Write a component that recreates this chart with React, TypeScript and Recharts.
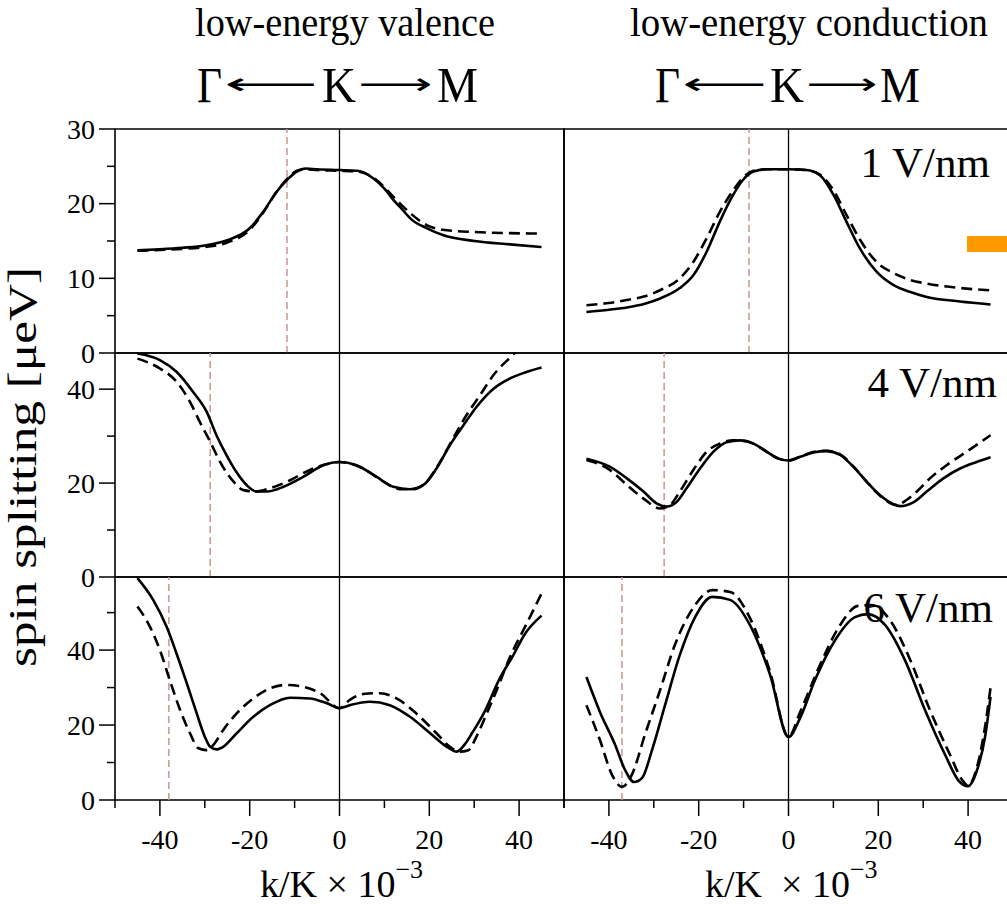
import React from 'react';
import { LineChart, Line, XAxis, YAxis, ReferenceLine, ReferenceArea } from 'recharts';

const FONT = 'Liberation Serif';
const ARROW_FONT = 'DejaVu Sans';

// ---------- data (k/K x 1e-3, spin splitting in μeV) ----------
// top-left: valence, 1 V/nm
const tlSolidK = [-45, -40, -35, -30, -25, -20, -17, -14, -11.5, -9.5, -7.5, -5, 0, 4, 7.5, 10, 12, 14, 16, 19.5, 23, 30, 38, 45];
const tlSolidV = [13.75, 13.9, 14.1, 14.4, 15.1, 16.7, 18.9, 21.6, 23.3, 24.3, 24.7, 24.6, 24.5, 24.4, 23.4, 22.0, 20.5, 19.2, 17.9, 16.7, 15.8, 15.0, 14.55, 14.2];
const tlDashK = tlSolidK;
const tlDashV = [13.7, 13.8, 13.95, 14.2, 14.8, 16.5, 18.8, 21.6, 23.4, 24.4, 24.6, 24.5, 24.4, 24.3, 23.5, 22.2, 20.9, 19.7, 18.6, 17.1, 16.5, 16.2, 16.05, 16.0];

// top-right: conduction, 1 V/nm
const trSolidK = [-45, -40, -36, -32, -28.6, -24.2, -21.2, -18.2, -15.3, -12.3, -10.1, -7.8, -4.9, 0, 4, 7, 10, 12.9, 15.9, 19.6, 23.4, 27, 30.8, 38.2, 45];
const trSolidV = [5.5, 5.8, 6.1, 6.6, 7.3, 8.7, 10.4, 13.6, 17.6, 21.2, 23.2, 24.3, 24.6, 24.6, 24.5, 23.8, 21.2, 17.6, 14.0, 10.9, 9.1, 8.2, 7.5, 6.9, 6.5];
const trDashK = trSolidK;
const trDashV = [6.4, 6.7, 7.1, 7.6, 8.4, 10.0, 12.2, 15.4, 18.9, 21.8, 23.5, 24.4, 24.6, 24.6, 24.5, 23.9, 21.8, 18.5, 15.2, 12.2, 10.7, 9.8, 9.3, 8.7, 8.4];

// middle-left: valence, 4 V/nm
const mlSolidK = [-45, -40, -36.3, -32.6, -29.6, -27.4, -25.2, -23, -20.7, -18.5, -16.2, -12.5, -8.1, -3.6, 0, 3.8, 8.3, 12, 15.7, 18.7, 21.6, 24.6, 27.6, 30.5, 34.3, 38, 41.5, 45];
const mlSolidV = [47.6, 46.2, 43.7, 39.4, 35.2, 30.2, 26.0, 22.4, 19.6, 18.2, 18.2, 19.2, 21.3, 23.8, 24.5, 23.8, 21.3, 19.2, 18.7, 19.6, 23.1, 28.1, 32.3, 36.2, 40.1, 42.3, 43.6, 44.6];
const mlDashK = [-45, -40, -36.3, -33.3, -31.1, -28.8, -26.6, -23.6, -21.4, -18.5, -15.5, -11, -6.6, -2.1, 0, 5.3, 9.8, 13.5, 16.4, 19.4, 22.4, 25.3, 28.3, 31.3, 34.3, 38.7, 39.3];
const mlDashV = [46.5, 44.4, 41.6, 37.3, 33.0, 28.8, 24.5, 20.3, 18.5, 18.2, 18.9, 20.6, 22.8, 24.2, 24.5, 23.1, 20.3, 18.7, 18.7, 20.3, 24.5, 29.5, 34.5, 38.7, 43.0, 47.4, 48.0];

// middle-right: conduction, 4 V/nm
const mrSolidK = [-45, -39.8, -36, -32.3, -29.4, -27.1, -24.9, -22.7, -19.7, -16.7, -13.8, -10.8, -7.8, -4.9, -1.9, 0, 2.6, 5.5, 8.5, 11.5, 14.4, 17.4, 20.4, 23.4, 24.8, 27.8, 30.8, 34.5, 38.2, 41.9, 45];
const mrSolidV = [25.2, 23.5, 21.0, 18.2, 15.7, 15.0, 16.0, 18.9, 23.1, 26.7, 28.7, 29.1, 28.4, 26.7, 25.1, 24.8, 25.6, 26.5, 26.8, 26.0, 23.5, 20.3, 17.4, 15.5, 15.1, 15.9, 18.2, 21.0, 23.1, 24.5, 25.5];
const mrDashK = [-45, -39.8, -36, -32.3, -28.6, -26.4, -24.2, -21.2, -18.2, -15.3, -12.3, -9.3, -7.8, -4.9, -1.9, 0, 2.6, 5.5, 8.5, 11.5, 14.4, 17.4, 20.4, 24.1, 26.3, 28.6, 31.5, 35.2, 39.7, 45];
const mrDashV = [24.9, 22.8, 19.6, 16.7, 14.6, 15.3, 18.2, 22.8, 26.7, 28.4, 29.1, 28.9, 28.4, 26.7, 25.1, 24.8, 25.6, 26.6, 26.9, 26.1, 23.6, 20.3, 17.3, 15.3, 16.4, 18.2, 21.0, 23.8, 26.7, 30.2];

// bottom-left: valence, 6 V/nm
const blSolidK = [-45, -41.5, -38.5, -36.3, -34, -31.8, -30, -28.8, -27.4, -25.9, -22.9, -19.2, -15.5, -11, -6.6, -2.8, 0, 2.3, 6.8, 11.2, 15.7, 20.2, 23.9, 26.1, 28, 29.5, 32.5, 35.5, 38.5, 41.4, 45];
const blSolidV = [59.2, 53.4, 46.2, 39.1, 31.1, 23.1, 16.9, 14.2, 13.5, 14.2, 17.8, 22.2, 25.3, 27.3, 27.1, 25.8, 24.5, 25.3, 26.2, 25.3, 22.2, 17.8, 14.2, 12.9, 15.0, 17.8, 24.0, 32.0, 38.2, 44.5, 49.2];
const blDashK = [-45, -42.2, -40, -37.8, -35.5, -33.3, -31.4, -29.6, -28.1, -25.9, -22.9, -19.2, -15.5, -11.8, -8, -4.3, 0, 2.3, 5.3, 9, 12.7, 17.1, 21.6, 24.6, 26.8, 28.7, 30.5, 32.8, 35, 38, 41.7, 45];
const blDashV = [51.6, 46.2, 40.0, 32.0, 24.0, 17.8, 13.8, 13.3, 14.7, 18.7, 23.1, 27.1, 29.8, 30.7, 30.2, 28.5, 24.5, 26.7, 28.3, 28.5, 27.1, 23.1, 17.8, 14.2, 12.9, 13.3, 16.9, 23.1, 29.3, 38.2, 47.1, 55.1];

// bottom-right: conduction, 6 V/nm
const brSolidK = [-45, -42, -38.6, -36.4, -34.4, -32.6, -30.4, -27.5, -24.2, -20.8, -17, -13, -8.6, -4.1, 0, 2.6, 5.9, 10.4, 14.8, 17.7, 21.5, 25.9, 30.4, 34.9, 38, 40, 42, 43.8, 45];
const brSolidV = [32.8, 23.5, 14.7, 8.0, 4.8, 5.9, 13.3, 25.3, 38.7, 48.8, 54.2, 53.4, 46.7, 33.4, 16.8, 21.9, 32.0, 42.7, 48.8, 49.6, 46.7, 37.4, 24.0, 12.0, 5.0, 3.7, 8.0, 17.0, 27.5];
const brDashK = [-45, -42, -39.3, -37.1, -34.9, -32, -28.6, -25.3, -20.8, -17, -13, -8.6, -4.1, 0, 2.6, 7, 11.5, 15.5, 18.6, 22.6, 27.1, 31.5, 36, 38.6, 40, 41.8, 43.5, 45];
const brDashV = [25.3, 16.0, 6.7, 3.5, 6.7, 17.3, 29.3, 41.4, 52.0, 56.0, 55.5, 48.6, 34.2, 16.8, 23.5, 36.0, 46.7, 51.8, 52.0, 48.0, 37.4, 24.0, 12.0, 5.5, 3.8, 8.0, 17.5, 30.0];

// vertical dashed markers (k/K x 1e-3)
const refKs = [-11.7, -8.8, -28.8, -27.7, -38.0, -37.1];

// axes
const xTicks = [-50, -40, -30, -20, -10, 0, 10, 20, 30, 40, 50];
const xLabeled = [-40, -20, 0, 20, 40];
const rowDomains: [number, number][] = [[0, 30], [0, 47.7], [0, 59.5]];
const rowTicks = [[0, 5, 10, 15, 20, 25, 30], [0, 10, 20, 30, 40], [0, 10, 20, 30, 40, 50]];
const rowLabeled = [[0, 10, 20, 30], [0, 20, 40], [0, 20, 40]];
const fieldLabels = ['1 V/nm', '4 V/nm', '6 V/nm'];

const toPts = (ks: number[], vs: number[]) => ks.map((k, i) => ({ k, v: vs[i] }));

const colLeft = [115, 564];
const rowTop = [129, 353, 577];
const rowH = [224, 224, 223];
const PW = 449;
const PAD = 24;

function YTick(props: any) {
  const { x, y, payload, labeled } = props;
  const major = labeled.includes(payload.value);
  return (
    <g>
      <line x1={x} x2={x - (major ? 16 : 8)} y1={y} y2={y} stroke="#000" strokeWidth={1.5} />
      {major && (
        <text x={x - 20} y={y} dy="0.35em" textAnchor="end" fontSize={28} fontFamily={FONT} fill="#000">
          {payload.value}
        </text>
      )}
    </g>
  );
}

function XTick(props: any) {
  const { x, y, payload } = props;
  const major = xLabeled.includes(payload.value);
  return (
    <g>
      <line x1={x} x2={x} y1={y} y2={y + (major ? 16 : 8)} stroke="#000" strokeWidth={1.5} />
      {major && (
        <text x={x} y={y + 49} textAnchor="middle" fontSize={28} fontFamily={FONT} fill="#000">
          {String(payload.value)}
        </text>
      )}
    </g>
  );
}

function Panel(props: any) {
  const { row, col, solid, dashed, refK } = props;
  const showY = col === 0;
  const showX = row === 2;
  const left = colLeft[col];
  const top = rowTop[row];
  const h = rowH[row];
  const yAxisW = showY ? left : 0;
  const marginLeft = showY ? 0 : PAD;
  const xAxisH = showX ? 90 : 0;
  const chartW = marginLeft + yAxisW + PW + PAD;
  const chartH = PAD + h + (showX ? xAxisH : PAD);
  const dom = rowDomains[row];
  return (
    <div style={{ position: 'absolute', left: left - yAxisW - marginLeft, top: top - PAD }}>
      <LineChart
        width={chartW}
        height={chartH}
        margin={{ top: PAD, right: PAD, bottom: showX ? 0 : PAD, left: marginLeft }}
      >
        <XAxis
          type="number"
          dataKey="k"
          domain={[-50, 50]}
          allowDataOverflow
          hide={!showX}
          height={xAxisH}
          ticks={xTicks}
          interval={0}
          tickSize={0}
          tickMargin={0}
          tickLine={false}
          axisLine={false}
          tick={(p: any) => <XTick {...p} />}
        />
        <YAxis
          type="number"
          dataKey="v"
          domain={dom}
          allowDataOverflow
          hide={!showY}
          width={yAxisW || 1}
          ticks={rowTicks[row]}
          interval={0}
          tickSize={0}
          tickMargin={0}
          tickLine={false}
          axisLine={false}
          tick={(p: any) => <YTick {...p} labeled={rowLabeled[row]} />}
        />
        <ReferenceLine x={refK} stroke="#c9948f" strokeWidth={1.5} strokeDasharray="7 4" ifOverflow="visible" />
        <ReferenceLine x={0} stroke="#000" strokeWidth={1.3} ifOverflow="visible" />
        <Line
          data={dashed}
          dataKey="v"
          type="monotone"
          stroke="#000"
          strokeWidth={2.6}
          strokeDasharray="11 6"
          dot={false}
          activeDot={false}
          isAnimationActive={false}
        />
        <Line
          data={solid}
          dataKey="v"
          type="monotone"
          stroke="#000"
          strokeWidth={2.6}
          dot={false}
          activeDot={false}
          isAnimationActive={false}
        />
        <ReferenceArea
          x1={-50}
          x2={50}
          y1={dom[0]}
          y2={dom[1]}
          fill="none"
          fillOpacity={0}
          stroke="#000"
          strokeWidth={1.6}
          ifOverflow="visible"
        />
      </LineChart>
    </div>
  );
}

function PathLabel(props: any) {
  const { g, k, m, a1, a2 } = props;
  return (
    <g>
      <text x={g[0]} y={102} fontSize={50} fontFamily={FONT} textLength={g[1] - g[0]} lengthAdjust="spacingAndGlyphs">Γ</text>
      <text x={a1[0]} y={94} fontSize={30} fontFamily={ARROW_FONT} textLength={a1[1] - a1[0]} lengthAdjust="spacingAndGlyphs">⟵</text>
      <text x={k[0]} y={102} fontSize={50} fontFamily={FONT} textLength={k[1] - k[0]} lengthAdjust="spacingAndGlyphs">K</text>
      <text x={a2[0]} y={94} fontSize={30} fontFamily={ARROW_FONT} textLength={a2[1] - a2[0]} lengthAdjust="spacingAndGlyphs">⟶</text>
      <text x={m[0]} y={102} fontSize={50} fontFamily={FONT} textLength={m[1] - m[0]} lengthAdjust="spacingAndGlyphs">M</text>
    </g>
  );
}

export default function App() {
  const panels = [
    { row: 0, col: 0, solid: toPts(tlSolidK, tlSolidV), dashed: toPts(tlDashK, tlDashV), refK: refKs[0] },
    { row: 0, col: 1, solid: toPts(trSolidK, trSolidV), dashed: toPts(trDashK, trDashV), refK: refKs[1] },
    { row: 1, col: 0, solid: toPts(mlSolidK, mlSolidV), dashed: toPts(mlDashK, mlDashV), refK: refKs[2] },
    { row: 1, col: 1, solid: toPts(mrSolidK, mrSolidV), dashed: toPts(mrDashK, mrDashV), refK: refKs[3] },
    { row: 2, col: 0, solid: toPts(blSolidK, blSolidV), dashed: toPts(blDashK, blDashV), refK: refKs[4] },
    { row: 2, col: 1, solid: toPts(brSolidK, brSolidV), dashed: toPts(brDashK, brDashV), refK: refKs[5] },
  ];
  const labelPos = [
    { x: 990, y: 177 },
    { x: 997, y: 397 },
    { x: 993, y: 622 },
  ];
  return (
    <div
      style={{
        position: 'absolute',
        left: 0,
        top: 0,
        width: 1007,
        height: 904,
        overflow: 'hidden',
        background: '#fff',
        fontFamily: FONT,
      }}
    >
      {panels.map((p, i) => (
        <Panel key={i} {...p} />
      ))}
      <svg
        width={1007}
        height={904}
        style={{ position: 'absolute', left: 0, top: 0, pointerEvents: 'none' }}
        fontFamily={FONT}
      >
        <text x={345} y={36} fontSize={41} fontFamily={FONT} textAnchor="middle" textLength={300} lengthAdjust="spacingAndGlyphs">
          low-energy valence
        </text>
        <text x={809} y={36} fontSize={41} fontFamily={FONT} textAnchor="middle" textLength={358} lengthAdjust="spacingAndGlyphs">
          low-energy conduction
        </text>
        <PathLabel g={[197, 222]} a1={[225, 318]} k={[322, 356]} a2={[358, 432]} m={[437, 478]} />
        <PathLabel g={[655, 680]} a1={[683, 767]} k={[770, 804]} a2={[806, 877]} m={[880, 920]} />
        <text
          transform="translate(36,467) rotate(-90)"
          fontSize={40}
          fontFamily={FONT}
          textAnchor="middle"
          textLength={400}
          lengthAdjust="spacingAndGlyphs"
        >
          spin splitting [μeV]
        </text>
        <text x={260} y={897} fontSize={38} fontFamily={FONT}>
          k/K × 10
          <tspan fontSize={26} dy={-19}>−3</tspan>
        </text>
        <text x={705} y={897} fontSize={38} fontFamily={FONT}>
          k/K{'\u00A0'} × 10
          <tspan fontSize={26} dy={-19}>−3</tspan>
        </text>
        {fieldLabels.map((t, i) => (
          <text key={t} x={labelPos[i].x} y={labelPos[i].y} fontSize={43} fontFamily={FONT} textAnchor="end">
            {t}
          </text>
        ))}
        <rect x={967} y={236} width={40} height={16} fill="#ff9900" />
      </svg>
    </div>
  );
}
